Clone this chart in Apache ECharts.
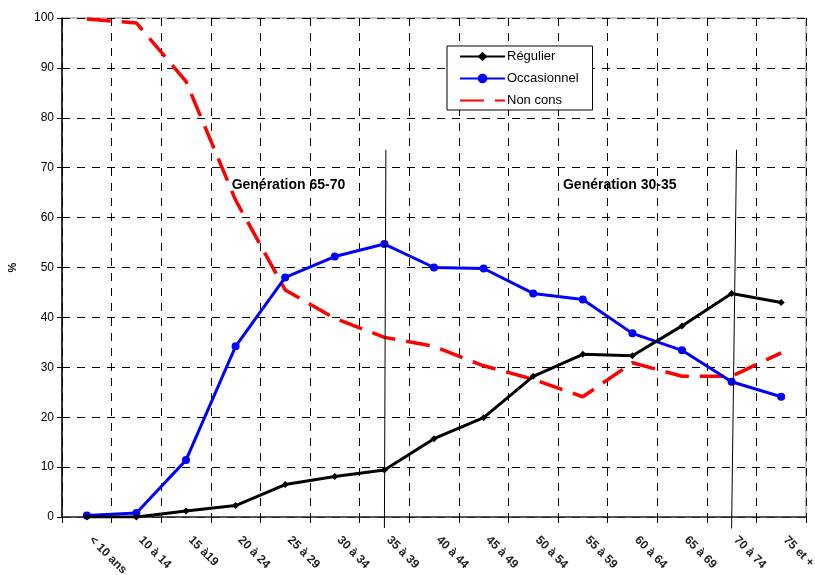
<!DOCTYPE html>
<html>
<head>
<meta charset="utf-8">
<script src="https://cdn.jsdelivr.net/npm/echarts@6/dist/echarts.min.js"></script>
<style>
html,body{margin:0;padding:0;background:#fff;}
#chart{width:815px;height:575px;}
</style>
</head>
<body>
<div id="chart"></div>
<script>
const categories = ['< 10 ans','10 à 14','15 à19','20 à 24','25 à 29','30 à 34','35 à 39','40 à 44','45 à 49','50 à 54','55 à 59','60 à 64','65 à 69','70 à 74','75 et +'];
const regulier    = [0, 0, 1.2, 2.3, 6.5, 8.1, 9.4, 15.7, 19.9, 28.2, 32.6, 32.3, 38.3, 44.8, 43.0];
const occasionnel = [0.3, 0.8, 11.4, 34.2, 48.0, 52.2, 54.7, 50.0, 49.8, 44.8, 43.6, 36.8, 33.4, 27.1, 24.1];
const nonCons     = [99.8, 99.0, 87.3, 63.5, 45.5, 39.8, 36.0, 34.2, 30.3, 27.6, 24.1, 30.9, 28.2, 28.2, 32.9];
const yTicks = { min: 0, max: 100, interval: 10 };
// vertical marker lines on a hidden 0..15 position axis (category i centre = i + 0.5):
// [bottom position, top position, top value, bottom value]
const vLines = [[6.5, 6.53, 73.6, -2.2], [13.5, 13.6, 73.6, -2.3]];
// annotations: [position, value]
const annotPos = [[3.42, 66.5], [10.1, 66.5]];
const annotText = ['Genération 65-70', 'Genération 30-35'];

const FONT = 'Liberation Sans, Arial, sans-serif';
const chart = echarts.init(document.getElementById('chart'), null, {renderer: 'canvas'});
chart.setOption({
  animation: false,
  backgroundColor: '#fff',
  textStyle: { fontFamily: FONT },
  grid: { left: 62, right: 9, top: 18, bottom: 58, containLabel: false, outerBoundsMode: 'none',
          show: true, borderColor: '#888', borderWidth: 1 },
  legend: {
    data: [
      { name: 'Régulier' },
      { name: 'Occasionnel' },
      { name: 'Non cons', itemStyle: { opacity: 0 } }
    ],
    orient: 'vertical',
    left: 447, top: 46,
    padding: [4, 14, 3, 12],
    itemGap: 9,
    itemWidth: 45, itemHeight: 12,
    backgroundColor: '#fff',
    borderColor: '#000', borderWidth: 1,
    textStyle: { fontFamily: FONT, fontSize: 13, color: '#000', padding: [0, 0, 0, -3] }
  },
  xAxis: [{
    type: 'category',
    data: categories,
    boundaryGap: true,
    axisLine: { lineStyle: { color: '#333', width: 1.5 } },
    axisTick: { show: true, length: 6, interval: 0, lineStyle: { color: '#000' } },
    splitLine: { show: true, interval: 0, lineStyle: { color: '#000', type: [8, 7], width: 1 } },
    axisLabel: { interval: 0, rotate: -45, margin: 17, padding: [0, 0, 0, 6], fontFamily: FONT, fontSize: 12, fontWeight: 'bold', color: '#222' }
  }, {
    type: 'value', min: 0, max: categories.length, show: false,
    splitLine: { show: false }
  }],
  yAxis: {
    type: 'value',
    min: yTicks.min, max: yTicks.max, interval: yTicks.interval,
    name: '%', nameLocation: 'middle', nameGap: 44, nameRotate: 90,
    nameTextStyle: { fontFamily: FONT, fontSize: 11, fontWeight: 'bold', color: '#000' },
    axisLine: { show: true, lineStyle: { color: '#000', width: 1.5 } },
    axisTick: { show: true, length: 5, lineStyle: { color: '#000' } },
    splitLine: { show: true, lineStyle: { color: '#000', type: [8, 7], width: 1 } },
    axisLabel: { fontFamily: FONT, fontSize: 12, color: '#000', margin: 8 }
  },
  series: [
    {
      name: 'Régulier', type: 'line', data: regulier,
      symbol: 'diamond', symbolSize: 7, showAllSymbol: true,
      lineStyle: { color: '#000', width: 3 },
      itemStyle: { color: '#000' }, z: 4
    },
    {
      name: 'Occasionnel', type: 'line', data: occasionnel,
      symbol: 'circle', symbolSize: 8, showAllSymbol: true,
      lineStyle: { color: '#0000ff', width: 3 },
      itemStyle: { color: '#0000ff' }, z: 3
    },
    {
      name: 'Non cons', type: 'line', data: nonCons,
      symbol: 'none',
      lineStyle: { color: '#ff0000', width: 3.5, type: [24, 11] },
      itemStyle: { color: '#ff0000' }, z: 2
    },
    {
      name: 'vlines', type: 'custom', xAxisIndex: 1, clip: false, z: 5, silent: true,
      data: vLines,
      encode: { x: 0, y: 2 },
      renderItem: function (params, api) {
        const top = api.coord([api.value(1), api.value(2)]);
        const bot = api.coord([api.value(0), api.value(3)]);
        return { type: 'line', shape: { x1: top[0], y1: top[1], x2: bot[0], y2: bot[1] },
                 style: { stroke: '#000', lineWidth: 1 } };
      }
    },
    {
      name: 'annot', type: 'custom', xAxisIndex: 1, clip: false, z: 6, silent: true,
      data: annotPos,
      encode: { x: 0, y: 1 },
      renderItem: function (params, api) {
        const p = api.coord([api.value(0), api.value(1)]);
        return { type: 'text', x: p[0], y: p[1],
                 style: { text: annotText[params.dataIndex], fill: '#000',
                          font: 'bold 14px ' + FONT, textAlign: 'left', textVerticalAlign: 'middle' } };
      }
    }
  ]
});
</script>
</body>
</html>
